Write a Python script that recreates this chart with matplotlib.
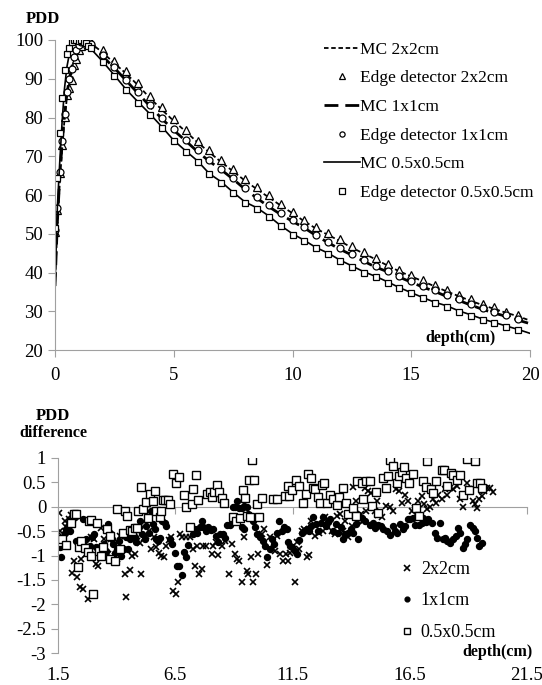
import numpy as np
import matplotlib
matplotlib.use('Agg')
import matplotlib.pyplot as plt

plt.rcParams['font.family'] = ['Liberation Serif', 'DejaVu Serif']
plt.rcParams['axes.unicode_minus'] = False

##########       Top panel data (PDD vs depth)       ##########
# measured points (edge detector)
depth_pts = [0.0, 0.1, 0.2, 0.3, 0.4, 0.5, 0.6, 0.7, 0.8, 0.9, 1.0, 1.1, 1.2, 1.3, 1.4, 1.5,
             2.0, 2.5, 3.0, 3.5, 4.0, 4.5, 5.0, 5.5, 6.0, 6.5, 7.0, 7.5, 8.0, 8.5, 9.0, 9.5,
             10.0, 10.5, 11.0, 11.5, 12.0, 12.5, 13.0, 13.5, 14.0, 14.5, 15.0, 15.5, 16.0,
             16.5, 17.0, 17.5, 18.0, 18.5, 19.0, 19.5]
edge_2x2 = [50.5, 56.2, 65.8, 73.0, 80.1, 85.9, 87.7, 89.6, 93.5, 95.2, 97.4, 98.5, 99.4, 99.8, 99.6, 99.4,
            97.3, 94.6, 91.9, 88.9, 85.5, 82.6, 79.6, 76.9, 74.0, 71.5, 69.0, 66.6, 64.1, 62.0, 59.9, 57.8,
            55.7, 53.6, 51.8, 50.2, 48.6, 46.9, 45.4, 43.8, 42.2, 40.7, 39.4, 38.1, 36.8,
            35.5, 34.3, 33.1, 32.0, 31.0, 29.9, 29.1]
edge_1x1 = [51.0, 56.6, 66.0, 74.0, 81.0, 86.5, 89.9, 92.5, 95.5, 97.5, 98.8, 99.5, 99.8, 99.7, 99.4, 99.0,
            96.0, 93.0, 89.8, 86.5, 83.2, 80.0, 77.0, 74.3, 71.5, 69.0, 66.8, 64.4, 61.8, 59.5, 57.3, 55.3,
            53.5, 51.8, 49.8, 48.0, 46.3, 44.8, 43.2, 41.7, 40.5, 39.1, 37.8, 36.5, 35.4,
            34.1, 33.1, 31.9, 30.8, 29.8, 29.0, 28.0]
edge_05 = [51.4, 64.5, 76.0, 85.0, 92.2, 96.4, 97.9, 99.6, 100.0, 100.0, 99.8, 99.9, 99.6, 99.2, 98.5, 98.0,
           94.3, 90.7, 87.0, 83.8, 80.7, 77.4, 73.9, 71.2, 68.6, 65.3, 63.2, 60.5, 58.0, 56.5, 54.4, 51.9,
           49.8, 48.1, 46.2, 44.8, 43.0, 41.5, 40.0, 38.8, 37.4, 35.9, 34.6, 33.3, 32.1,
           31.2, 29.9, 28.9, 27.8, 26.9, 26.0, 25.1]

# Monte Carlo curves
depth_mc = [0.0, 0.1, 0.2, 0.3, 0.4, 0.5, 0.6, 0.7, 0.8, 0.9, 1.0, 1.1, 1.2, 1.3, 1.4, 1.5,
            2.0, 2.5, 3.0, 3.5, 4.0, 4.5, 5.0, 5.5, 6.0, 6.5, 7.0, 7.5, 8.0, 8.5, 9.0, 9.5,
            10.0, 10.5, 11.0, 11.5, 12.0, 12.5, 13.0, 13.5, 14.0, 14.5, 15.0, 15.5, 16.0,
            16.5, 17.0, 17.5, 18.0, 18.5, 19.0, 19.5, 20.0]
mc_2x2 = [37.0, 52.0, 63.0, 72.0, 79.5, 85.0, 88.5, 91.5, 94.5, 96.5, 98.0, 99.0, 99.6, 99.8, 99.6, 99.2,
          96.8, 94.0, 91.3, 88.3, 85.0, 82.0, 79.1, 76.4, 73.6, 71.0, 68.5, 66.1, 63.7, 61.5, 59.4, 57.3,
          55.3, 53.2, 51.3, 49.7, 48.1, 46.4, 44.9, 43.4, 41.8, 40.3, 39.0, 37.7, 36.4,
          35.1, 33.9, 32.7, 31.6, 30.6, 29.6, 28.7, 27.6]
mc_1x1 = [36.5, 53.0, 64.5, 73.5, 80.5, 86.0, 89.8, 92.8, 95.5, 97.3, 98.6, 99.4, 99.8, 99.7, 99.4, 99.0,
          95.8, 92.8, 89.5, 86.2, 82.9, 79.7, 76.7, 74.0, 71.2, 68.7, 66.5, 64.1, 61.5, 59.2, 57.0, 55.0,
          53.2, 51.5, 49.5, 47.7, 46.0, 44.5, 42.9, 41.4, 40.2, 38.8, 37.5, 36.2, 35.1,
          33.8, 32.8, 31.6, 30.5, 29.5, 28.7, 27.7, 26.8]
mc_05 = [36.0, 57.0, 68.5, 79.0, 87.5, 93.0, 96.3, 98.4, 99.5, 99.9, 99.8, 99.6, 99.2, 98.8, 98.3, 97.8,
         94.5, 90.9, 87.2, 84.0, 80.9, 77.6, 74.1, 71.4, 68.8, 65.5, 63.4, 60.7, 58.2, 56.7, 54.6, 52.1,
         50.0, 48.3, 46.4, 45.0, 43.2, 41.7, 40.2, 39.0, 37.6, 36.1, 34.8, 33.5, 32.3,
         31.4, 30.1, 29.1, 28.0, 27.1, 26.2, 25.3, 24.3]

##########       Bottom panel data (PDD difference)       ##########
# (depth, difference) pairs
diff_2x2 = np.array([
    [1.54, -0.12], [1.60, -0.49], [1.68, -0.59], [1.78, -0.30], [1.86, -0.42], [1.97, -0.25],
    [2.07, -0.16], [2.11, -1.35], [2.17, -1.11], [2.31, -1.45], [2.42, -1.65], [2.50, -1.07],
    [2.57, -1.69], [2.68, -0.97], [2.78, -1.89], [2.85, -0.87], [2.92, -0.63], [3.02, -0.66],
    [3.10, -1.18], [3.19, -1.22], [3.35, -0.44], [3.45, -0.66], [3.53, -0.94], [3.63, -0.96],
    [3.77, -0.66], [3.92, -1.01], [4.02, -1.07], [4.13, -0.59], [4.34, -1.38], [4.41, -1.86],
    [4.56, -1.30], [4.67, -1.00], [4.77, -0.96], [4.87, -0.70], [4.98, -0.75], [5.05, -1.38],
    [5.15, -0.64], [5.27, -0.59], [5.38, -0.49], [5.48, -0.87], [5.58, -0.63], [5.69, -0.83],
    [5.81, -0.94], [5.91, -1.00], [6.01, -1.04], [6.12, -0.80], [6.23, -0.68], [6.33, -0.63],
    [6.40, -1.72], [6.55, -1.79], [6.62, -1.55], [6.69, -0.56],
    [6.77, -0.63], [6.96, -0.63], [7.13, -0.63], [7.26, -0.87], [7.34, -1.21], [7.44, -0.80],
    [7.52, -1.38], [7.62, -1.28], [7.70, -0.80], [7.81, -0.80], [8.05, -0.96], [8.12, -0.80],
    [8.24, -0.73], [8.33, -0.98], [8.48, -0.80], [8.62, -0.70], [8.80, -1.38], [8.90, -0.77],
    [9.05, -0.97], [9.12, -1.07], [9.23, -1.11], [9.33, -1.55], [9.43, -0.63], [9.54, -1.31],
    [9.61, -1.37], [9.71, -1.04], [9.83, -1.55], [9.93, -1.37], [10.04, -0.96], [10.18, -0.56],
    [10.28, -0.46], [10.42, -1.19], [10.54, -0.63], [10.65, -0.87], [10.75, -0.90], [10.85, -0.59],
    [10.96, -0.96], [11.08, -1.11], [11.22, -0.96], [11.32, -1.11], [11.39, -0.94], [11.60, -1.55],
    [11.68, -0.73], [11.79, -0.87], [11.89, -0.49], [11.99, -0.46], [12.13, -1.04], [12.22, -0.98],
    [12.31, -0.29], [12.46, -0.59], [12.64, -0.53], [12.78, -0.49], [12.88, -0.21], [12.98, -0.29],
    [13.17, -0.49], [13.31, -0.56], [13.41, -0.18], [13.52, -0.15], [13.64, -0.49], [13.74, -0.29],
    [13.88, -0.63], [14.02, -0.39], [14.09, 0.40], [14.20, 0.12], [14.30, -0.29], [14.40, -0.15],
    [14.52, -0.29], [14.59, 0.39], [14.63, -0.08], [14.73, 0.33], [14.83, 0.29], [14.94, -0.01],
    [15.02, -0.09], [15.09, 0.12], [15.16, -0.16], [15.30, -0.21], [15.49, 0.01], [15.66, 0.00],
    [15.80, -0.09], [15.92, 0.36], [16.06, 0.32], [16.16, 0.08], [16.30, 0.25], [16.44, 0.12],
    [16.58, -0.09], [16.73, -0.02], [16.87, 0.12], [17.01, 0.23], [17.11, 0.05], [17.22, -0.04],
    [17.37, 0.00], [17.48, 0.16], [17.62, 0.08], [17.72, 0.25], [17.86, 0.15], [18.00, 0.36],
    [18.10, 0.25], [18.22, 0.39], [18.36, 0.36], [18.50, 0.42], [18.64, 0.15], [18.79, 0.00],
    [18.93, 0.49], [19.04, 0.36], [19.18, 0.12], [19.28, 0.05], [19.38, -0.02], [19.47, 0.16],
    [19.57, 0.22], [19.67, 0.32], [19.78, 0.39], [19.92, 0.38], [20.05, 0.30]])

diff_1x1 = np.array([
    [1.57, -0.83], [1.64, -1.03], [1.71, -0.77], [1.78, -0.53], [1.86, -0.46], [1.93, -0.39],
    [2.00, -0.49], [2.11, -0.29], [2.17, -0.15], [2.21, -0.22], [2.28, -0.70], [2.40, -0.80],
    [2.57, -0.25], [2.64, -0.80], [2.71, -0.66], [2.78, -0.90], [2.85, -0.80], [2.96, -0.63],
    [3.04, -0.56], [3.13, -0.83], [3.25, -0.94], [3.35, -0.80], [3.45, -0.77], [3.53, -0.90],
    [3.63, -0.36], [3.70, -0.53], [3.79, -0.66], [3.85, -0.77], [3.92, -0.94], [4.02, -0.87],
    [4.10, -0.70], [4.20, -1.00], [4.30, -0.87], [4.39, -0.63], [4.49, -0.87], [4.58, -0.66],
    [4.66, -0.59], [4.77, -0.63], [4.84, -0.73], [4.95, -0.42], [5.01, -0.29], [5.10, -0.56],
    [5.20, -0.66], [5.27, -0.39], [5.37, -0.53], [5.48, -0.08], [5.55, -0.36], [5.65, -0.46],
    [5.69, -0.66], [5.78, -0.71], [5.86, -0.64], [5.95, -0.29], [6.05, -0.34], [6.12, -0.39],
    [6.26, -0.66], [6.36, -0.77], [6.47, -0.94], [6.57, -1.21], [6.64, -1.21],
    [6.77, -1.39], [6.87, -0.92], [6.96, -1.04], [7.06, -0.78], [7.13, -0.41], [7.24, -0.56],
    [7.34, -0.46], [7.44, -0.53], [7.55, -0.42], [7.62, -0.29], [7.70, -0.42], [7.81, -0.49],
    [7.91, -0.42], [8.02, -0.48], [8.12, -0.46], [8.24, -0.59], [8.33, -0.73], [8.41, -0.55],
    [8.52, -0.56], [8.62, -0.64], [8.72, -0.37], [8.83, -0.37], [8.95, 0.00], [9.05, 0.00],
    [9.14, 0.12], [9.23, -0.03], [9.33, -0.03], [9.43, 0.02], [9.54, 0.00], [9.33, -0.41],
    [9.44, -0.46], [9.61, -0.15], [9.71, -0.18], [9.80, -0.29], [9.90, -0.42], [10.00, -0.55],
    [10.11, -0.62], [10.23, -0.70], [10.32, -0.80], [10.42, -1.04], [10.54, -0.87], [10.61, -0.66],
    [10.71, -0.77], [10.82, -0.53], [10.92, -0.29], [11.04, -0.49], [11.13, -0.42], [11.25, -0.46],
    [11.32, -0.73], [11.39, -0.80], [11.49, -0.83], [11.60, -0.90], [11.70, -0.96], [11.79, -0.68],
    [11.89, -0.53], [11.99, -0.49], [12.10, -0.46], [12.20, -0.49], [12.27, -0.39], [12.39, -0.22],
    [12.50, -0.36], [12.60, -0.49], [12.70, -0.34], [12.81, -0.22], [12.93, -0.39], [13.03, -0.32],
    [13.12, -0.25], [13.24, -0.49], [13.34, -0.36], [13.45, -0.53], [13.55, -0.42], [13.67, -0.66],
    [13.76, -0.56], [13.88, -0.53], [13.98, -0.46], [14.09, -0.53], [14.20, -0.36], [14.30, -0.66],
    [14.45, -0.23], [14.59, -0.29], [14.81, -0.38], [14.92, -0.34], [15.02, -0.43], [15.16, -0.38],
    [15.26, -0.40], [15.38, -0.46], [15.52, -0.50], [15.66, -0.57], [15.77, -0.40], [15.87, -0.50],
    [15.97, -0.53], [16.09, -0.36], [16.20, -0.46], [16.30, -0.40], [16.44, -0.26], [16.51, -0.25],
    [16.63, -0.23], [16.73, -0.38], [16.80, -0.19], [16.91, -0.38], [17.01, -0.33], [17.08, -0.23],
    [17.19, -0.31], [17.29, -0.26], [17.44, -0.33], [17.58, -0.53], [17.68, -0.64], [17.79, -0.33],
    [17.91, -0.67], [18.00, -0.64], [18.10, -0.70], [18.22, -0.75], [18.33, -0.67], [18.47, -0.60],
    [18.57, -0.43], [18.64, -0.53], [18.76, -0.84], [18.86, -0.77], [18.96, -0.67], [19.07, -0.38],
    [19.18, -0.43], [19.28, -0.50], [19.38, -0.64], [19.47, -0.81], [19.57, -0.75]])

diff_05 = np.array([
    [1.57, -0.73], [1.68, -0.66], [1.86, -0.78], [2.04, -0.34], [2.17, -0.15], [2.28, -0.15],
    [2.35, -1.23], [2.40, -0.83], [2.50, -0.70], [2.64, -0.85], [2.78, -0.93], [2.82, -0.29],
    [2.90, -1.02], [2.92, -0.27], [2.99, -1.79], [3.16, -0.34], [3.25, -0.90], [3.35, -1.00],
    [3.42, -0.83], [3.59, -0.46], [3.70, -0.59], [3.73, -1.07], [3.92, -1.11], [4.02, -0.05],
    [4.13, -0.87], [4.27, -0.53], [4.34, -0.08], [4.44, -0.18], [4.56, -0.48], [4.67, -0.49],
    [4.77, -0.44], [4.87, -0.44], [4.91, -0.08], [5.05, 0.41], [5.12, -0.05], [5.24, 0.09],
    [5.34, -0.23], [5.44, 0.26], [5.55, 0.12], [5.62, 0.33], [5.69, -0.08], [5.84, -0.22],
    [5.88, -0.08], [5.98, 0.14], [6.08, 0.14], [6.19, 0.14], [6.29, 0.05], [6.40, 0.67],
    [6.55, 0.48], [6.66, 0.62],
    [6.87, 0.25], [6.96, 0.00], [7.11, -0.42], [7.20, 0.05], [7.27, 0.36], [7.38, 0.66],
    [7.48, 0.14], [7.87, 0.27], [7.98, 0.31], [8.05, 0.19], [8.16, 0.31], [8.26, 0.44],
    [8.36, 0.31], [8.48, 0.17], [8.58, 0.07], [8.97, -0.22], [9.09, -0.29], [9.26, -0.23],
    [9.37, 0.35], [9.47, 0.17], [9.58, -0.18], [9.66, 0.55], [9.68, -0.22], [9.76, 0.96],
    [9.86, 0.55], [10.00, 0.05], [10.08, -0.22],
    [10.18, 0.17], [10.65, 0.15], [10.85, 0.15], [11.18, 0.23], [11.32, 0.42], [11.36, 0.23],
    [11.46, 0.34], [11.65, 0.55], [11.79, 0.42], [11.96, 0.08], [12.07, 0.27], [12.17, 0.67],
    [12.27, 0.58], [12.36, 0.38], [12.46, 0.36], [12.60, 0.21], [12.67, 0.08], [12.74, 0.44],
    [12.84, 0.49], [12.95, 0.07], [13.10, 0.24], [13.24, 0.15], [13.38, 0.03], [13.49, 0.19],
    [13.66, 0.38], [13.78, 0.08], [13.88, -0.14], [14.06, -0.02], [14.20, -0.19], [14.26, 0.53],
    [14.45, 0.49], [14.52, 0.15], [14.63, 0.53], [14.80, 0.53], [14.91, 0.01], [15.06, 0.31],
    [15.16, -0.12], [15.34, 0.59], [15.48, 0.38], [15.58, 0.63], [15.65, 0.96], [15.80, 0.83],
    [15.97, 0.49], [16.05, 0.63], [16.15, 0.72], [16.25, 0.82], [16.36, 0.58], [16.48, 0.48],
    [16.62, 0.67], [16.76, -0.03], [16.90, -0.19], [17.05, 0.53], [17.19, 0.40], [17.25, 0.94],
    [17.39, 0.36], [17.50, 0.29], [17.64, 0.53], [17.86, 0.75], [17.97, 0.75], [18.10, 0.42],
    [18.24, 0.70], [18.35, 0.65], [18.50, 0.55], [18.64, 0.65], [18.78, 0.24], [18.95, 0.98],
    [19.04, 0.34], [19.28, 0.94], [19.35, 0.49], [19.49, 0.49], [19.56, 0.38]])

x_ticks_top = [0, 5, 10, 15, 20]
y_ticks_top = [20, 30, 40, 50, 60, 70, 80, 90, 100]
x_ticks_bot = [1.5, 6.5, 11.5, 16.5, 21.5]
y_ticks_bot = [-3, -2.5, -2, -1.5, -1, -0.5, 0, 0.5, 1]

GREY = '#a0a0a0'
TICK_FS = 13.5
LEG_FS = 12.5

fig = plt.figure(figsize=(5.42, 6.85), dpi=100)

####################### top panel ##########################
ax1 = fig.add_axes([55 / 542, 1 - 350 / 685, 475 / 542, 310 / 685])
ax1.plot(depth_mc, mc_2x2, color='black', lw=1.3, ls=(0, (2.5, 1.5)), label='MC 2x2cm')
ax1.plot(depth_pts, edge_2x2, ls='none', marker='^', ms=5.5, mfc='white', mec='black', mew=0.9,
         label='Edge detector 2x2cm')
ax1.plot(depth_mc, mc_1x1, color='black', lw=2.0, ls=(0, (5, 2.5)), label='MC 1x1cm')
ax1.plot(depth_pts, edge_1x1, ls='none', marker='o', ms=5, mfc='white', mec='black', mew=0.9,
         label='Edge detector 1x1cm')
ax1.plot(depth_mc, mc_05, color='black', lw=1.2, ls='-', label='MC 0.5x0.5cm')
ax1.plot(depth_pts, edge_05, ls='none', marker='s', ms=5, mfc='white', mec='black', mew=0.9,
         label='Edge detector 0.5x0.5cm')

ax1.set_xlim(0, 20)
ax1.set_ylim(20, 100)
ax1.set_xticks(x_ticks_top)
ax1.set_yticks(y_ticks_top)
for s in ['top', 'right']:
    ax1.spines[s].set_visible(False)
for s in ['left', 'bottom']:
    ax1.spines[s].set_color(GREY)
ax1.tick_params(axis='both', colors=GREY, labelcolor='black', labelsize=TICK_FS, length=5, width=0.8)
ax1.tick_params(axis='x', pad=7)
ax1.set_facecolor('none')

leg1 = ax1.legend(loc='upper left', bbox_to_anchor=(315 / 542, 1 - 33 / 685),
                  bbox_transform=fig.transFigure, frameon=False, fontsize=LEG_FS,
                  handlelength=2.1, handletextpad=0.0, labelspacing=0.72, borderpad=0,
                  markerscale=0.75)

fig.text(43 / 542, 1 - 19 / 685, 'PDD', fontsize=12, fontweight='bold', ha='center', va='center')
fig.text(496 / 542, 1 - 338 / 685, 'depth(cm)', fontsize=11.5, fontweight='bold',
         ha='right', va='center')

####################### bottom panel ##########################
ax2 = fig.add_axes([58 / 542, 1 - 653 / 685, 469 / 542, 195 / 685])
ax2.plot(diff_2x2[:, 0], diff_2x2[:, 1], ls='none', marker='x', ms=5, mec='black', mew=1.2,
         label='2x2cm')
ax2.plot(diff_1x1[:, 0], diff_1x1[:, 1], ls='none', marker='o', ms=4.3, mfc='black', mec='black',
         label='1x1cm')
ax2.plot(diff_05[:, 0], diff_05[:, 1], ls='none', marker='s', ms=5.8, mfc='white', mec='black',
         mew=1.0, label='0.5x0.5cm')

ax2.set_xlim(1.5, 21.5)
ax2.set_ylim(-3, 1)
ax2.set_yticks(y_ticks_bot)
ax2.set_yticklabels(['%g' % v for v in y_ticks_bot])
ax2.set_xticks(x_ticks_bot)
for s in ['top', 'right']:
    ax2.spines[s].set_visible(False)
ax2.spines['left'].set_color(GREY)
ax2.spines['bottom'].set_color(GREY)
ax2.spines['bottom'].set_position(('data', 0))
ax2.spines['bottom'].set_zorder(0)
ax2.tick_params(axis='both', colors=GREY, labelcolor='black', labelsize=TICK_FS, length=5, width=0.8)
ax2.tick_params(axis='x', labelbottom=False)
ax2.set_facecolor('none')

sec = ax2.secondary_xaxis('bottom')
sec.set_xticks(x_ticks_bot)
sec.set_xticklabels(['%g' % v for v in x_ticks_bot])
sec.spines['bottom'].set_visible(False)
sec.tick_params(length=0, labelsize=TICK_FS, pad=10)

leg2 = ax2.legend(loc='upper left', bbox_to_anchor=(391 / 542, 1 - 552 / 685),
                  bbox_transform=fig.transFigure, frameon=False, fontsize=13,
                  handlelength=0.8, handletextpad=0.35, labelspacing=0.8, borderpad=0,
                  markerscale=0.8)

fig.text(53 / 542, 1 - 416 / 685, 'PDD', fontsize=12, fontweight='bold', ha='center', va='center')
fig.text(53 / 542, 1 - 433 / 685, 'difference', fontsize=11.5, fontweight='bold',
         ha='center', va='center')
fig.text(533 / 542, 1 - 652 / 685, 'depth(cm)', fontsize=11.5, fontweight='bold',
         ha='right', va='center')

fig.savefig('out.png', dpi=100)
